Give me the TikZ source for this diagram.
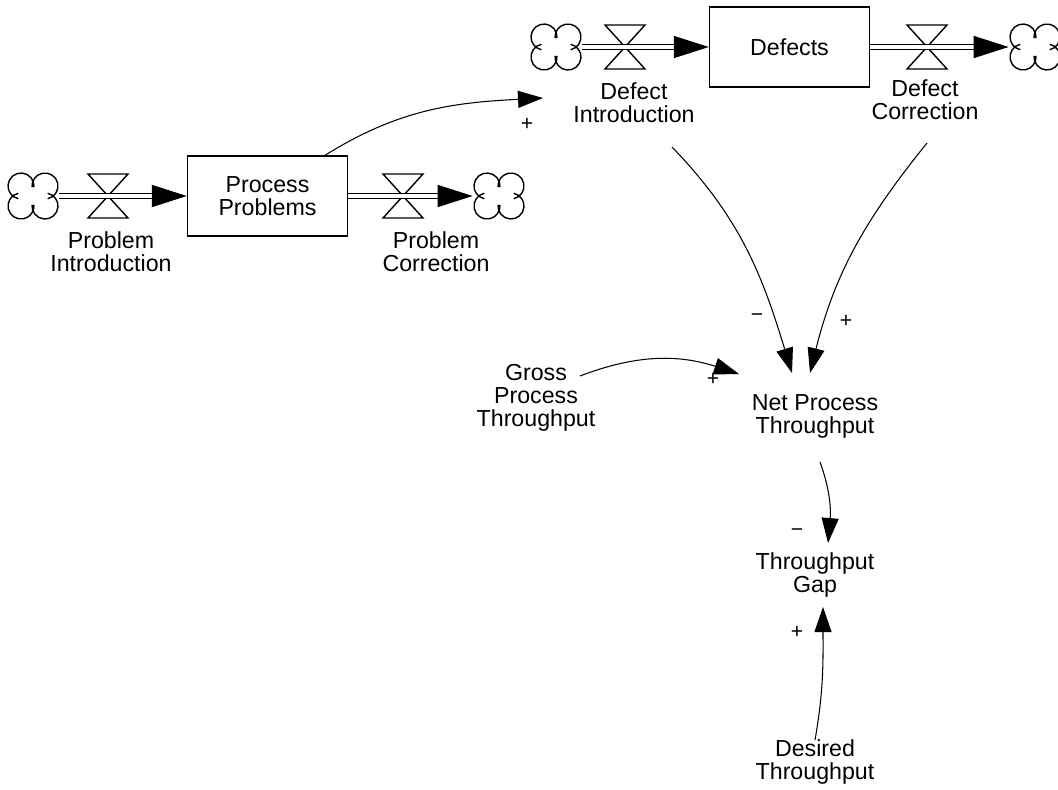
\documentclass[tikz,border=0pt]{standalone}
\usepackage{fontspec}
\setmainfont{Liberation Sans}
\usetikzlibrary{arrows.meta,calc}

\begin{document}
\begin{tikzpicture}[
    x=0.02cm, y=0.02cm,
    font=\fontsize{13.2}{13.1}\selectfont,
    stock/.style={
      draw,
      line width=0.8pt,
      align=center,
      minimum width=3.2cm,
      minimum height=1.6cm
    },
    var/.style={align=center, inner sep=0pt},
    sign/.style={inner sep=0pt, font=\fontsize{12}{12}\selectfont},
    valve/.style={
      minimum width=0.9cm, minimum height=0.95cm, inner sep=0pt,
      path picture={
        \draw[line width=0.8pt]
          ([shift={(-0.4cm,0.44cm)}]path picture bounding box.center)
          -- ++(0.8cm,0) -- ++(-0.8cm,-0.88cm) -- ++(0.8cm,0) -- cycle;
      }
    },
    cloud/.style={
      minimum width=1.04cm, minimum height=0.96cm, inner sep=0pt,
      path picture={
        \foreach \cx/\cy/\a/\b in {0.24/0.2/-78/185, -0.24/0.2/-5/258,
            -0.24/-0.2/102/365, 0.24/-0.2/175/438}
          \draw[line width=0.8pt]
            ([shift={(\cx cm,\cy cm)}]path picture bounding box.center)
            ++(\a:0.26cm) arc[start angle=\a, end angle=\b, radius=0.26cm];
      }
    },
    pipe/.style={
      double, double distance=0.08cm, line width=0.8pt,
      -{Triangle[length=0.7cm, width=0.44cm]}
    },
    link/.style={line width=0.6pt, -{Triangle[length=0.5cm, width=0.34cm]}}
  ]
    \useasboundingbox (0,0) rectangle (1058,-789);

    % problems chain
    \node[cloud] (src1) at (33,-196) {};
    \node[valve] (pin) at (108,-196) {};
    \node[stock] (pp) at (267.5,-196) {Process\\Problems};
    \node[valve] (pout) at (403,-196) {};
    \node[cloud] (snk1) at (499,-196) {};
    \node[var] (pinlab) at (111,-252) {Problem\\Introduction};
    \node[var] (poutlab) at (436,-252) {Problem\\Correction};

    % defects chain
    \node[cloud] (src2) at (556,-47) {};
    \node[valve] (din) at (625,-47) {};
    \node[stock] (def) at (789.5,-47) {Defects};
    \node[valve] (dout) at (927,-47) {};
    \node[cloud] (snk2) at (1035,-47) {};
    \node[var] (dinlab) at (634,-103) {Defect\\Introduction};
    \node[var] (doutlab) at (925,-100) {Defect\\Correction};

    \node[var] (gross) at (536,-398) {Gross\\Process\\Throughput};
    \node[var] (net) at (815,-416) {Net Process\\Throughput};
    \node[var] (gap) at (815,-575) {Throughput\\Gap};
    \node[var] (desired) at (815,-762) {Desired\\Throughput};

    \draw[pipe] (src1) -- (pp);
    \draw[pipe] (pp) -- (snk1);
    \draw[pipe] (src2) -- (def);
    \draw[pipe] (def) -- (snk2);

    \draw[link] ($(pp.north)+(57.5,0)$) to[out=32,in=183] ($(dinlab)+(-91,5)$);
    \draw[link] ($(dinlab)+(38,-44)$) to[out=-46,in=107] ($(net)+(-23,43)$);
    \draw[link] ($(doutlab)+(2,-43)$) to[out=-129,in=76] ($(net)+(-5,43)$);
    \draw[link] ($(gross)+(44,22)$) to[out=21,in=162] ($(net)+(-76,42)$);
    \draw[link] ($(net)+(5,-46)$) to[out=-70,in=85] ($(gap)+(13,32)$);
    \draw[link] ($(desired)+(0,22)$) to[out=80,in=-90] ($(gap)+(8,-32)$);

    \node[sign] (s1) at (527,-124) {+};
    \node[sign] (s2) at (757,-318) {−};
    \node[sign] (s3) at (846,-321) {+};
    \node[sign] (s4) at (713,-379) {+};
    \node[sign] (s5) at (797,-533) {−};
    \node[sign] (s6) at (797,-632) {+};
  \end{tikzpicture}
\end{document}
